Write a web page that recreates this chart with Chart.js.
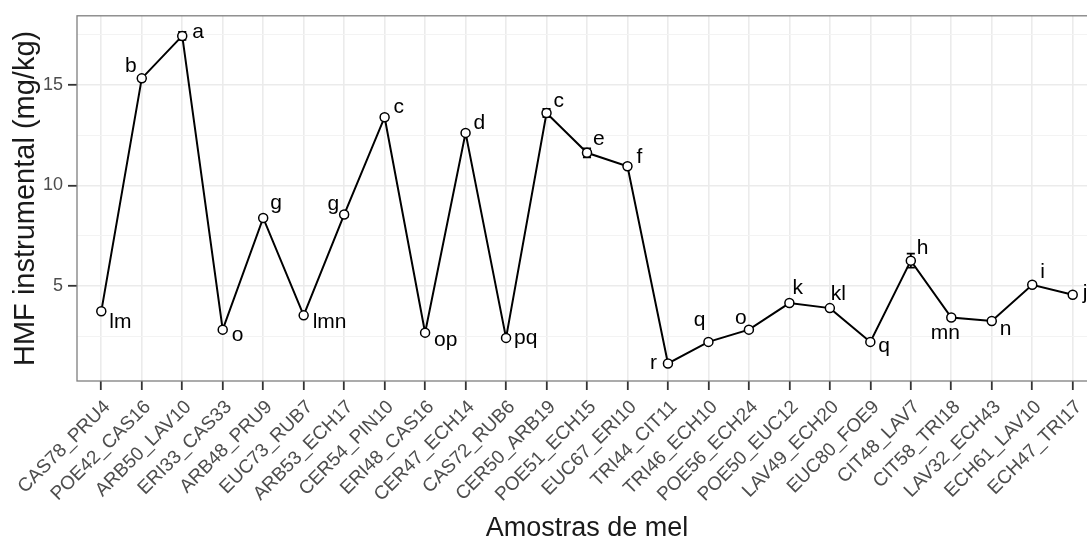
<!DOCTYPE html>
<html>
<head>
<meta charset="utf-8">
<title>HMF instrumental</title>
<script src="https://cdn.jsdelivr.net/npm/chart.js@4.4.1/dist/chart.umd.min.js"></script>
<style>
  html, body { margin: 0; padding: 0; background: #ffffff; overflow: hidden; }
  #wrap { position: relative; width: 1110px; height: 542px; }
</style>
</head>
<body>
<div id="wrap"><canvas id="chart"></canvas></div>
<script>
// Honey samples on the x axis
const samples = [
  'CAS78_PRU4', 'POE42_CAS16', 'ARB50_LAV10', 'ERI33_CAS33', 'ARB48_PRU9',
  'EUC73_RUB7', 'ARB53_ECH17', 'CER54_PIN10', 'ERI48_CAS16', 'CER47_ECH14',
  'CAS72_RUB6', 'CER50_ARB19', 'POE51_ECH15', 'EUC67_ERI10', 'TRI44_CIT11',
  'TRI46_ECH10', 'POE56_ECH24', 'POE50_EUC12', 'LAV49_ECH20', 'EUC80_FOE9',
  'CIT48_LAV7', 'CIT58_TRI18', 'LAV32_ECH43', 'ECH61_LAV10', 'ECH47_TRI17'
];

// Mean HMF (mg/kg) per sample
const hmf = [
  3.74, 15.32, 17.43, 2.83, 8.38,
  3.54, 8.55, 13.39, 2.68, 12.61,
  2.42, 13.60, 11.62, 10.95, 1.15,
  2.22, 2.83, 4.15, 3.90, 2.22,
  6.26, 3.43, 3.26, 5.06, 4.56
];

// Standard deviation per sample
const hmfSd = [
  0.08, 0.12, 0.20, 0.08, 0.10,
  0.08, 0.12, 0.12, 0.06, 0.10,
  0.06, 0.20, 0.22, 0.10, 0.05,
  0.08, 0.10, 0.10, 0.08, 0.08,
  0.35, 0.10, 0.08, 0.10, 0.08
];

// Significance groups (Tukey letters)
const letters = [
  'lm', 'b', 'a', 'o', 'g',
  'lmn', 'g', 'c', 'op', 'd',
  'pq', 'c', 'e', 'f', 'r',
  'q', 'o', 'k', 'kl', 'q',
  'h', 'mn', 'n', 'i', 'j'
];

const yTickValues = [5, 10, 15];
const yGridValues = [2.5, 5, 7.5, 10, 12.5, 15, 17.5];

// Where each letter sits next to its point: [textAlign, dx, dy to baseline] in px
const letterPlacement = [
  ['left', 8, 17], ['right', -5, -6], ['left', 10, 2], ['left', 9, 11], ['left', 7, -9],
  ['left', 9, 13], ['right', -5, -5], ['left', 9, -4], ['left', 9, 13], ['left', 8, -4],
  ['left', 8, 6], ['left', 7, -6], ['left', 6, -8], ['left', 9, -3], ['right', -11, 6],
  ['right', -3, -16], ['center', -8, -6], ['left', 3, -9], ['left', 1, -8], ['left', 8, 10],
  ['left', 6, -7], ['center', -6, 21], ['left', 8, 14], ['left', 8, -7], ['left', 10, 4]
];

const FONT = "'Liberation Sans', Arial, Helvetica, sans-serif";
Chart.defaults.font.family = FONT;

const isMajorY = v => yTickValues.includes(v);

const errorBars = {
  id: 'errorBars',
  beforeDatasetsDraw(chart) {
    const { ctx, scales: { x, y } } = chart;
    ctx.save();
    ctx.strokeStyle = '#000';
    ctx.lineWidth = 1.8;
    hmf.forEach((v, i) => {
      const px = x.getPixelForValue(i);
      const half = x.getPixelForValue(i + 0.1) - px;
      const top = y.getPixelForValue(v + hmfSd[i]);
      const bot = y.getPixelForValue(v - hmfSd[i]);
      ctx.beginPath();
      ctx.moveTo(px, top); ctx.lineTo(px, bot);
      ctx.moveTo(px - half, top); ctx.lineTo(px + half, top);
      ctx.moveTo(px - half, bot); ctx.lineTo(px + half, bot);
      ctx.stroke();
    });
    ctx.restore();
  }
};

const groupLetters = {
  id: 'groupLetters',
  afterDatasetsDraw(chart) {
    const { ctx, scales: { x, y } } = chart;
    ctx.save();
    ctx.font = '21px ' + FONT;
    ctx.fillStyle = '#000';
    ctx.textBaseline = 'alphabetic';
    letters.forEach((t, i) => {
      const [align, dx, dy] = letterPlacement[i];
      ctx.textAlign = align;
      ctx.fillText(t, x.getPixelForValue(i) + dx, y.getPixelForValue(hmf[i]) + dy);
    });
    ctx.restore();
  }
};

const panelBorder = {
  id: 'panelBorder',
  afterDraw(chart) {
    const { ctx, chartArea: a } = chart;
    ctx.save();
    ctx.strokeStyle = '#7f7f7f';
    ctx.lineWidth = 1.3;
    ctx.strokeRect(a.left, a.top, a.right - a.left, a.bottom - a.top);
    ctx.restore();
  }
};

new Chart(document.getElementById('chart'), {
  type: 'line',
  data: {
    datasets: [{
      data: hmf.map((v, i) => ({ x: i, y: v })),
      borderColor: '#000',
      borderWidth: 2,
      pointRadius: 4.5,
      pointBackgroundColor: '#fff',
      pointBorderColor: '#000',
      pointBorderWidth: 1.5,
      tension: 0
    }]
  },
  options: {
    responsive: true,
    maintainAspectRatio: false,
    devicePixelRatio: 1,
    animation: false,
    events: [],
    layout: { padding: { top: 14, right: 13, bottom: 0, left: 0 } },
    plugins: { legend: { display: false }, tooltip: { enabled: false } },
    scales: {
      x: {
        type: 'linear',
        min: -0.6,
        max: samples.length - 0.4,
        afterBuildTicks: s => { s.ticks = samples.map((_, i) => ({ value: i })); },
        afterFit: s => { s.height = 161; },
        ticks: {
          autoSkip: false,
          minRotation: 45,
          maxRotation: 45,
          callback: v => samples[v],
          font: { size: 19 },
          color: '#4d4d4d',
          padding: 6,
          labelOffset: 6
        },
        grid: {
          color: '#ebebeb',
          lineWidth: 1.6,
          tickLength: 9,
          tickColor: '#333',
          tickWidth: 1.8
        },
        border: { display: false },
        title: {
          display: true,
          text: 'Amostras de mel',
          font: { size: 27, lineHeight: 1 },
          color: '#1a1a1a',
          padding: { top: 0, bottom: 0 }
        }
      },
      y: {
        type: 'linear',
        min: 0.277,
        max: 18.43,
        afterBuildTicks: s => { s.ticks = yGridValues.map(v => ({ value: v })); },
        afterFit: s => { s.width = 77; },
        ticks: {
          callback: v => isMajorY(v) ? String(v) : '',
          font: { size: 18 },
          color: '#4d4d4d',
          padding: 5
        },
        grid: {
          color: c => isMajorY(c.tick.value) ? '#ebebeb' : '#f3f3f3',
          lineWidth: c => isMajorY(c.tick.value) ? 1.6 : 1,
          tickLength: 9,
          tickColor: c => isMajorY(c.tick.value) ? '#333' : 'rgba(0,0,0,0)',
          tickWidth: 1.8
        },
        border: { display: false },
        title: {
          display: true,
          text: 'HMF instrumental (mg/kg)',
          font: { size: 29, lineHeight: 1 },
          color: '#1a1a1a',
          padding: { top: 11, bottom: 0 }
        }
      }
    }
  },
  plugins: [errorBars, groupLetters, panelBorder]
});
</script>
</body>
</html>
